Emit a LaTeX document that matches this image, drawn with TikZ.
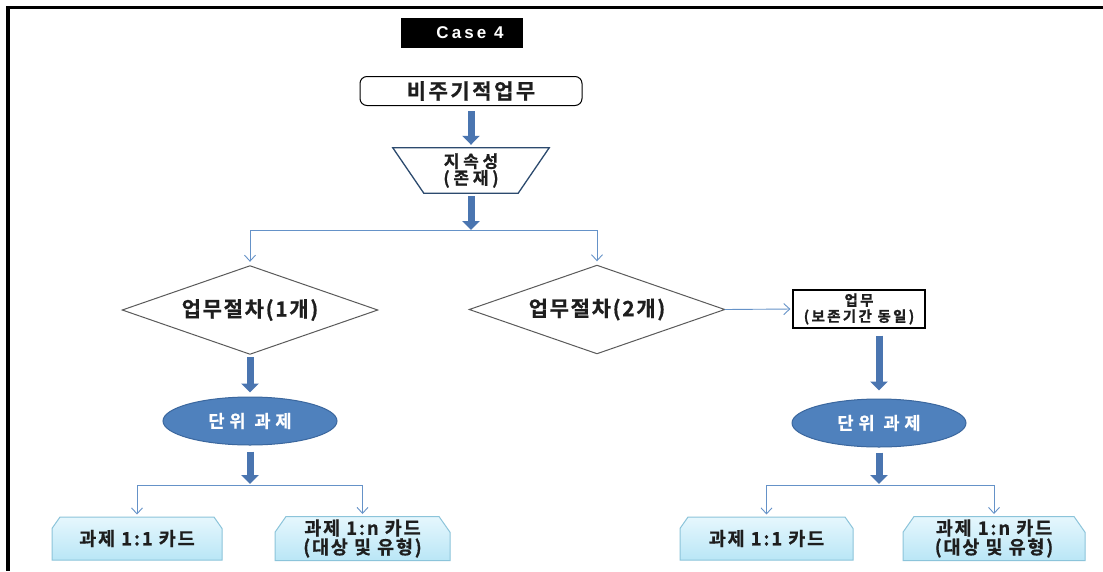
\documentclass[tikz,border=0pt]{standalone}
\usepackage{fontspec}
\usetikzlibrary{shapes.geometric,shapes.misc,arrows.meta}
\newfontfamily\kr{Noto Sans CJK KR}[BoldFont={Noto Sans CJK KR Bold},BoldFeatures={FakeBold=0.8}]
\newfontfamily\lat{Liberation Sans}
\definecolor{fatblue}{HTML}{4A75B0}
\definecolor{thinblue}{HTML}{6592C8}
\definecolor{unitfill}{HTML}{4F81BD}
\definecolor{unitedge}{HTML}{3B679E}
\definecolor{cardtop}{HTML}{E6F7FD}
\definecolor{cardbot}{HTML}{B9E6F6}
\definecolor{cardedge}{HTML}{8CC4DA}
\definecolor{trapedge}{HTML}{2C4A6E}
\definecolor{greyedge}{HTML}{5A5A5A}
\definecolor{ink}{HTML}{1E1E1E}
\begin{document}
\begin{tikzpicture}[x=1pt,y=-1pt,
  casebox/.style={fill=black,text=white,font=\lat\bfseries\fontsize{17}{19}\selectfont\addfontfeature{LetterSpace=18},
    minimum width=122pt,minimum height=30pt,inner sep=0pt},
  startbox/.style={draw=black,line width=1pt,rounded corners=7pt,fill=white,
    minimum width=222pt,minimum height=29pt,inner sep=0pt,
    font=\kr\bfseries\fontsize{21}{23}\selectfont\addfontfeature{LetterSpace=12},text=ink},
  trapbox/.style={minimum width=156pt,minimum height=45pt,inner sep=0pt,align=center,
    font=\kr\bfseries\fontsize{17}{15}\selectfont\addfontfeature{LetterSpace=22},text=ink},
  decisionbox/.style={minimum width=255pt,minimum height=88pt,inner sep=0pt,
    font=\kr\bfseries\fontsize{21}{23}\selectfont\addfontfeature{LetterSpace=8},text=ink},
  decisionedge/.style={draw=greyedge,line width=1pt},
  plainbox/.style={draw=black,line width=1.2pt,minimum width=132pt,minimum height=38pt,inner sep=0pt,
    align=center,font=\kr\bfseries\fontsize{14.5}{16}\selectfont\addfontfeature{LetterSpace=16},text=ink},
  unit/.style={ellipse,draw=unitedge,line width=1pt,fill=unitfill,text=white,
    minimum width=174pt,minimum height=48pt,inner sep=0pt,
    font=\kr\bfseries\fontsize{17.5}{19}\selectfont\addfontfeature{LetterSpace=28}},
  card/.style={chamfered rectangle,chamfered rectangle corners={north west,north east},
    chamfered rectangle xsep=9pt,chamfered rectangle angle=35,
    draw=cardedge,line width=1pt,top color=cardtop,bottom color=cardbot,
    minimum height=43pt,inner sep=0pt,align=center,text=ink,
    font=\kr\bfseries\fontsize{18.5}{19}\selectfont\addfontfeature{LetterSpace=10}},
  fat/.style={draw=fatblue,line width=7pt,-{Triangle[width=17pt,length=9pt]}},
  slim/.style={draw=thinblue,line width=0.9pt},
  slimarrow/.style={slim,-{Straight Barb[length=6pt,width=11pt]}}]

\useasboundingbox (0,0) rectangle (1103,571);
\fill[white] (0,0) rectangle (1103,571);
% page frame (top and left edges)
\draw[line width=3.5pt] (1103,7.5) -- (8,7.5) -- (8,571);

% title tag (label sits a little right of the tag's centre)
\node[casebox] (case) at (462,33) {\hspace*{16pt}Case 4};

% main column
\node[startbox] (start) at (471,91) {비주기적업무};
\node[trapbox] (cont) at (471,170.5) {지속성\\(존재)};
\draw[trapedge,line width=1.3pt]
  (cont.north west) -- (cont.north east) -- ([xshift=-31pt]cont.south east)
  -- ([xshift=31pt]cont.south west) -- cycle;
\coordinate (split1) at (471,230);

% decisions
\node[decisionbox] (d1) at (250,310) {업무절차(1개)};
\draw[decisionedge] (d1.north) -- (d1.east) -- (d1.south) -- (d1.west) -- cycle;
\node[decisionbox] (d2) at (597,309.5) {업무절차(2개)};
\draw[decisionedge] (d2.north) -- (d2.east) -- (d2.south) -- (d2.west) -- cycle;
\node[plainbox] (work) at (859,309) {업무\\(보존기간 동일)};

\node[unit] (u1) at (250,421) {단위 과제};
\node[unit] (u2) at (879,423) {단위 과제};
\coordinate (split2) at (250,485);
\coordinate (split3) at (879,485);

\node[card,minimum width=170pt] (c1) at (137,538.5) {과제 1:1 카드};
\node[card,minimum width=175pt] (c2) at (362.5,538.5) {과제 1:n 카드\\(대상 및 유형)};
\node[card,minimum width=173pt] (c3) at (766.5,538.5) {과제 1:1 카드};
\node[card,minimum width=182pt] (c4) at (994,538.5) {과제 1:n 카드\\(대상 및 유형)};

% thick flow arrows
\draw[fat,shorten <=5pt,shorten >=3pt] (start.south) -- (cont.north);
\draw[fat,shorten <=3pt,shorten >=0pt] (cont.south) -- (split1);
\draw[fat,shorten <=3pt,shorten >=4pt] (d1.south) -- (u1.north);
\draw[fat,shorten <=6pt,shorten >=1pt] (u1.south) -- (split2);
\draw[fat,shorten <=7pt,shorten >=8pt] (work.south -| u2.north) -- (u2.north);
\draw[fat,shorten <=5pt,shorten >=1pt] (u2.south) -- (split3);

% thin branch arrows
\draw[slimarrow,shorten >=4pt] (split1) -| (d1.north);
\draw[slimarrow,shorten >=4pt] (split1) -| (d2.north);
\draw[slimarrow,shorten >=2pt] (d2.east) -- (work.west);
\draw[slimarrow,shorten >=2pt] (split2) -| (c1.north);
\draw[slimarrow,shorten >=2pt] (split2) -| (c2.north);
\draw[slimarrow,shorten >=2pt] (split3) -| (c3.north);
\draw[slimarrow,shorten >=2pt] (split3) -| (c4.north);
\end{tikzpicture}
\end{document}
